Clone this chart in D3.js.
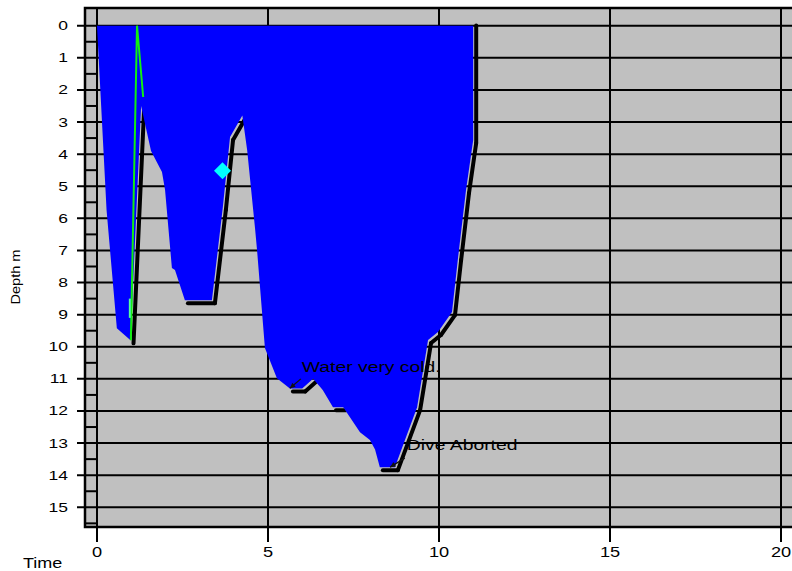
<!DOCTYPE html>
<html>
<head>
<meta charset="utf-8">
<script src="https://cdn.jsdelivr.net/npm/d3@7"></script>
<style>
  body { margin: 0; background: #fff; }
  text { font-family: Arial, "Liberation Sans", sans-serif; }
</style>
</head>
<body>
<div id="chart"></div>
<script>
// dive profile: time in minutes, depth in metres
const times  = [0, 0.28, 0.58, 0.98, 1.29, 1.58, 1.9, 1.99, 2.19, 2.28, 2.57, 3.36, 3.68, 3.89, 4.25,
                4.39, 4.62, 4.68, 4.91, 5.26, 5.64, 6.0, 6.32, 6.6, 6.9, 7.2, 7.69, 7.98, 8.13, 8.27,
                8.71, 9.36, 9.68, 9.97, 10.38, 10.56, 10.79, 11.0, 11.0];
const depths = [0, 5.75, 9.42, 9.8, 2.5, 3.9, 4.56, 5.12, 7.55, 7.61, 8.55, 8.55, 5.65, 3.47, 2.8,
                3.87, 6.3, 6.99, 10.04, 10.98, 11.3, 11.3, 11.0, 11.35, 11.88, 11.88, 12.66, 12.9, 13.2, 13.75,
                13.75, 11.88, 9.79, 9.54, 8.92, 7.2, 5.12, 3.56, -0.1];

// green trace
const greenTimes  = [0.99, 1.17, 1.35];
const greenDepths = [9.8, 0, 2.22];
const greenShortTimes  = [0.96, 0.96];
const greenShortDepths = [8.5, 9.1];

// marker
const markerTimes  = [3.67];
const markerDepths = [4.52];

// annotations
const noteLabels = ["Water very cold.", "Dive Aborted"];
const noteTimes  = [5.99, 9.06];
const noteDepths = [10.79, 13.22];
const noteFromT  = [5.96, 9.0];
const noteFromD  = [11.0, 13.47];
const noteToT    = [5.64, 8.57];
const noteToD    = [11.29, 13.75];

const xTicks = [0, 5, 10, 15, 20];
const yTicks = d3.range(0, 16);
const yMinor = d3.range(0.5, 16, 1);

const W = 792, H = 571;
const plot = {left: 85, top: 8, bottom: 527, right: 800};

const svg = d3.select("#chart").append("svg")
  .attr("width", W).attr("height", H);

const x = d3.scaleLinear().domain([0, 20]).range([97, 781]);
const y = d3.scaleLinear().domain([0, 15]).range([25.7, 507.3]);

// stretched text helper (the original font is wide)
function stext(g, px, py, str, size, sx, anchor) {
  return g.append("text")
    .attr("transform", "translate(" + px + "," + py + ") scale(" + sx + ",1)")
    .attr("text-anchor", anchor)
    .style("font-size", size + "px")
    .attr("fill", "#000")
    .text(str);
}

// background
svg.append("rect")
  .attr("x", plot.left).attr("y", plot.top)
  .attr("width", plot.right - plot.left).attr("height", plot.bottom - plot.top)
  .attr("fill", "#c0c0c0");

const grid = svg.append("g").attr("stroke", "#000").attr("stroke-width", 2);

// horizontal grid / major ticks
grid.selectAll(".hg").data(yTicks).join("line")
  .attr("x1", 77).attr("x2", plot.right)
  .attr("y1", d => y(d)).attr("y2", d => y(d));

// minor ticks
grid.selectAll(".mt").data(yMinor).join("line")
  .attr("x1", plot.left).attr("x2", x(0))
  .attr("y1", d => y(d)).attr("y2", d => y(d));

// vertical grid / x ticks
grid.selectAll(".vg").data(xTicks).join("line")
  .attr("x1", d => x(d)).attr("x2", d => x(d))
  .attr("y1", plot.top).attr("y2", 542);

// border
svg.append("path")
  .attr("d", "M" + plot.right + "," + plot.top + "H" + plot.left + "V" + plot.bottom + "H" + plot.right)
  .attr("fill", "none").attr("stroke", "#000").attr("stroke-width", 2.5);

const profile = times.map((t, i) => [t, depths[i]]);

// shadow line, only on flat and ascending parts
const line = d3.line().x(d => x(d[0])).y(d => y(d[1]));
const segs = d3.pairs(profile).filter(p => p[1][1] <= p[0][1]);
svg.append("g")
  .attr("transform", "translate(3,3)")
  .selectAll("path").data(segs).join("path")
  .attr("d", line)
  .attr("fill", "none")
  .attr("stroke", "#000")
  .attr("stroke-width", 4)
  .attr("stroke-linecap", "round");

// blue fill
const area = d3.area().x(d => x(d[0])).y0(y(0)).y1(d => y(Math.max(0, d[1])));
svg.append("path")
  .datum(profile)
  .attr("d", area)
  .attr("fill", "#0000ff");

// green lines
svg.append("path")
  .datum(greenTimes.map((t, i) => [t, greenDepths[i]]))
  .attr("d", line)
  .attr("fill", "none").attr("stroke", "#11ee11").attr("stroke-width", 2);
svg.append("path")
  .datum(greenShortTimes.map((t, i) => [t, greenShortDepths[i]]))
  .attr("d", line)
  .attr("fill", "none").attr("stroke", "#55ff99").attr("stroke-width", 2);

// cyan marker
svg.selectAll(".mk").data(markerTimes).join("path")
  .attr("d", d3.symbol().type(d3.symbolSquare).size(144))
  .attr("transform", (d, i) => "translate(" + x(d) + "," + y(markerDepths[i]) + ") rotate(45)")
  .attr("fill", "#00ffff");

// annotations
const notes = svg.append("g");
noteLabels.forEach((lab, i) => {
  stext(notes, x(noteTimes[i]), y(noteDepths[i]), lab, 14, 1.38, "start");
  const x1 = x(noteFromT[i]), y1 = y(noteFromD[i]), x2 = x(noteToT[i]), y2 = y(noteToD[i]);
  notes.append("line")
    .attr("x1", x1).attr("y1", y1).attr("x2", x2).attr("y2", y2)
    .attr("stroke", "#111").attr("stroke-width", 1.3);
  const ang = Math.atan2(y2 - y1, x2 - x1);
  const L = 6, a = 0.45;
  notes.append("path")
    .attr("d", "M" + x2 + "," + y2 +
      "L" + (x2 - L * Math.cos(ang - a)) + "," + (y2 - L * Math.sin(ang - a)) +
      "L" + (x2 - L * Math.cos(ang + a)) + "," + (y2 - L * Math.sin(ang + a)) + "Z")
    .attr("fill", "#111");
});

// axis labels
const labs = svg.append("g");
yTicks.forEach(d => stext(labs, 68, y(d) + 4.5, String(d), 12.5, 1.4, "end"));
xTicks.forEach(d => stext(labs, x(d), 557, String(d), 14, 1.3, "middle"));
stext(labs, 23, 568, "Time", 15, 1.2, "start");
labs.append("text")
  .attr("transform", "translate(20,277) rotate(-90) scale(1.12,1)")
  .attr("text-anchor", "middle")
  .style("font-size", "13px")
  .attr("fill", "#000")
  .text("Depth m");
</script>
</body>
</html>
